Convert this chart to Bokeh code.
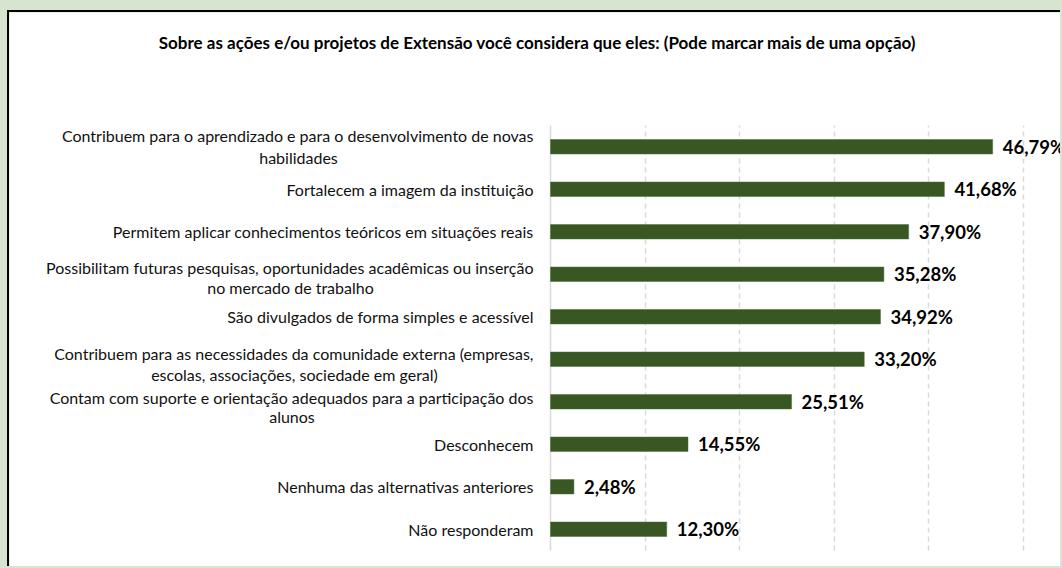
from bokeh.plotting import figure
from bokeh.models import ColumnDataSource, FixedTicker, Range1d, Grid
from bokeh.core.properties import value
from bokeh.embed import file_html
from bokeh.resources import INLINE

title = "Sobre as ações e/ou projetos de Extensão você considera que eles: (Pode marcar mais de uma opção)"
categories = [
    "Contribuem para o aprendizado e para o desenvolvimento de novas\nhabilidades",
    "Fortalecem a imagem da instituição",
    "Permitem aplicar conhecimentos teóricos em situações reais",
    "Possibilitam futuras pesquisas, oportunidades acadêmicas ou inserção\nno mercado de trabalho",
    "São divulgados de forma simples e acessível",
    "Contribuem para as necessidades da comunidade externa (empresas,\nescolas, associações, sociedade em geral)",
    "Contam com suporte e orientação adequados para a participação dos\nalunos",
    "Desconhecem",
    "Nenhuma das alternativas anteriores",
    "Não responderam",
]
values = [46.79, 41.68, 37.90, 35.28, 34.92, 33.20, 25.51, 14.55, 2.48, 12.30]
grid_ticks = [10, 20, 30, 40, 50]

# ---- layout (screen px) ----
PAD_L, PAD_T, BORDER = 7, 10, 2
W, H = 1062 - PAD_L - BORDER, 568 - PAD_T - BORDER   # canvas size
AXIS_X = 550 - PAD_L - BORDER       # canvas px where value 0 sits
PX_PER_UNIT = 9.45                  # px per percentage point
TOP_PX = 125 - PAD_T - BORDER       # canvas space above the category area
BOTTOM_PX = H - (550 - PAD_T - BORDER)
TITLE_Y, TITLE_CX = 42 - PAD_T - BORDER, 537 - PAD_L - BORDER
line1_shift = [11, 0, 0, 7, 0, 6, 4, 0, 0, 0]
line2_shift = [-11, 0, 0, -13, 0, -15, -15, 0, 0, 0]
line1_width = [470, 0, 0, 486, 0, 478, 483, 0, 0, 0]

N = len(categories)
PX_PER_CAT = (H - TOP_PX - BOTTOM_PX) / N
ypos = [N - i - 0.5 for i in range(N)]
labels = [f"{v:.2f}%".replace(".", ",") for v in values]
src = ColumnDataSource(dict(y=ypos, val=values, lab=labels))

first = dict(y=[], txt=[], dy=[])
second = dict(y=[], txt=[], dy=[], dx=[])
for i, c in enumerate(categories):
    parts = c.split("\n")
    first["y"].append(ypos[i]); first["txt"].append(parts[0]); first["dy"].append(-line1_shift[i])
    if len(parts) > 1:
        second["y"].append(ypos[i]); second["txt"].append(parts[1]); second["dy"].append(-line2_shift[i])
        second["dx"].append(-17 - line1_width[i] / 2)

x0 = -AXIS_X / PX_PER_UNIT
x1 = x0 + W / PX_PER_UNIT
y0 = -BOTTOM_PX / PX_PER_CAT
y1 = N + TOP_PX / PX_PER_CAT
p = figure(width=W, height=H, output_backend="svg", toolbar_location=None,
           x_range=Range1d(x0, x1), y_range=Range1d(y0, y1),
           min_border_left=0, min_border_right=0, min_border_top=0, min_border_bottom=0)
p.background_fill_color = "white"
p.border_fill_color = "white"
p.outline_line_color = None
p.styles = {"border-left": f"{BORDER}px solid black", "border-top": f"{BORDER}px solid black"}
p.xaxis.visible = False
p.yaxis.visible = False

has_cross = "cross_bounds" in Grid.properties()
p.xgrid.ticker = FixedTicker(ticks=grid_ticks)
p.ygrid.grid_line_color = None
if has_cross:
    p.xgrid.grid_line_color = "#d9d9d9"
    p.xgrid.grid_line_dash = "5 4"
    p.xgrid.grid_line_width = 1.5
    p.xgrid.cross_bounds = (0, N)
    p.add_layout(Grid(dimension=0, ticker=FixedTicker(ticks=[0]), cross_bounds=(0, N),
                      grid_line_color="#d9d9d9", grid_line_width=1.5))
else:
    p.xgrid.grid_line_color = None
    p.segment(x0=grid_ticks, x1=grid_ticks, y0=0, y1=N, line_color="#d9d9d9",
              line_dash="5 4", line_width=1.5)
    p.segment(x0=[0], x1=[0], y0=0, y1=N, line_color="#d9d9d9", line_width=1.5)

p.hbar(y="y", right="val", left=0, height=0.34, source=src,
       fill_color="#385723", line_color="#4f6f3a", line_width=0.5)

p.text(x="val", y="y", text="lab", source=src, x_offset=10,
       text_baseline="middle", text_font=value("Lato"), text_font_style="bold",
       text_font_size="18.5px", text_color="black")

p.text(x=0, y="y", text="txt", source=ColumnDataSource(first),
       x_offset=-17, y_offset="dy", text_align="right", text_baseline="middle",
       text_font=value("Lato"), text_font_size="16px", text_color="#111111")
p.text(x=0, y="y", text="txt", source=ColumnDataSource(second),
       x_offset="dx", y_offset="dy", text_align="center", text_baseline="middle",
       text_font=value("Lato"), text_font_size="16px", text_color="#111111")

p.text(x=[x0 + TITLE_CX / PX_PER_UNIT], y=[y1 - TITLE_Y / PX_PER_CAT], text=[title],
       text_align="center", text_baseline="middle", text_font=value("Lato"),
       text_font_style="bold", text_font_size="17px", text_color="black")

html = file_html(p, INLINE)
css = ("<style>html, body { background-color: #d7e4cf; overflow: hidden; scrollbar-width: none; } "
       "::-webkit-scrollbar { display: none; width: 0; height: 0; } "
       f"body {{ padding: {PAD_T}px 0 0 {PAD_L}px !important; }}</style></head>")
html = html.replace("</head>", css, 1)
open("out.html", "w").write(html)
